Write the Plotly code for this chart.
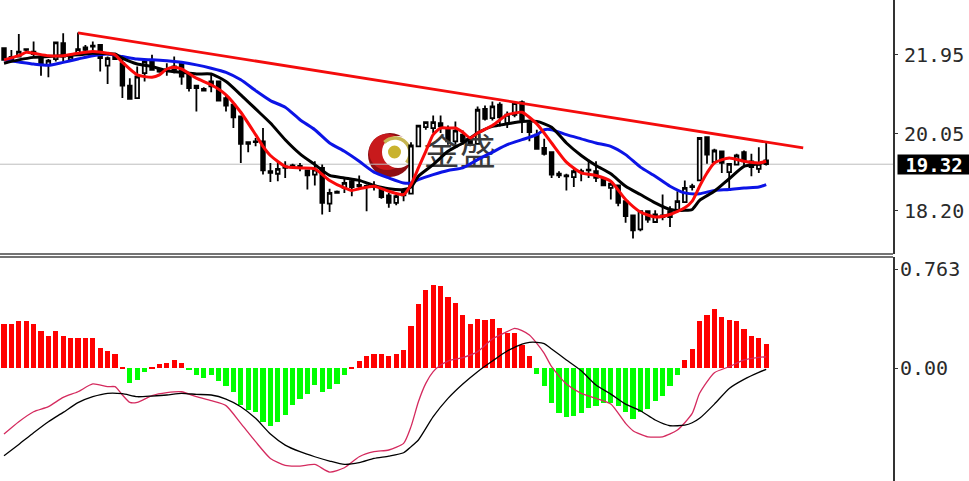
import math
import plotly.graph_objects as go

W, H = 969, 481

opens = [22.11,21.90,21.91,22.09,21.97,21.91,21.71,21.85,22.23,21.83,21.99,22.13,22.17,22.19,21.69,21.91,21.75,21.21,20.91,21.51,
         21.81,21.59,21.60,21.59,21.75,21.47,21.21,21.13,21.31,21.31,20.91,20.75,20.47,19.85,19.87,19.87,19.15,19.09,19.27,19.29,
         19.28,19.17,19.07,19.23,18.37,18.66,18.75,18.91,18.82,18.80,18.80,18.71,18.57,18.39,18.57,18.61,19.75,20.21,20.19,20.31,
         20.19,19.87,20.03,19.91,19.81,20.65,20.43,20.75,20.31,20.51,20.81,20.31,20.03,19.71,19.61,19.09,19.05,19.01,19.15,19.19,
         19.15,18.97,18.75,18.81,18.43,18.09,17.75,18.19,17.93,18.09,18.05,18.21,18.41,18.79,18.93,19.97,19.37,19.63,19.13,19.31,
         19.61,19.39,19.21,19.41]
highs = [22.11,22.07,22.45,22.09,22.27,21.95,21.85,22.25,22.47,21.93,22.49,22.19,22.27,22.19,21.91,21.93,21.89,21.39,21.67,21.83,
         21.95,21.60,21.75,21.91,21.77,21.47,21.23,21.17,21.47,21.31,20.97,20.77,20.47,19.85,19.95,20.19,19.35,19.39,19.39,19.33,
         19.35,19.17,19.39,19.31,18.73,18.69,18.97,18.97,19.05,18.83,18.91,18.79,18.63,18.59,18.75,19.85,20.27,20.33,20.49,20.49,
         20.25,20.35,20.13,19.97,20.71,20.73,20.83,20.81,20.59,20.81,20.85,20.35,20.15,19.93,19.61,19.15,19.09,19.25,19.21,19.43,
         19.39,18.99,18.89,18.81,18.43,18.09,18.21,18.21,18.21,18.59,18.31,18.67,18.93,18.85,19.97,19.99,19.69,19.63,19.35,19.57,
         19.65,19.57,19.73,19.85]
lows = [21.83,21.83,21.91,22.03,21.91,21.45,21.41,21.79,21.79,21.81,21.95,22.03,22.03,21.55,21.25,21.83,20.91,20.89,20.89,21.31,
        21.57,21.52,21.45,21.51,21.23,21.07,20.59,21.09,21.05,20.83,20.59,20.19,19.35,19.61,19.75,19.07,18.89,18.91,18.99,19.23,
        19.15,18.71,18.81,18.11,18.17,18.61,18.63,18.55,18.75,18.19,18.69,18.49,18.27,18.33,18.43,18.59,19.73,20.15,20.07,20.07,
        19.79,19.79,19.79,19.75,19.81,20.37,20.37,20.23,20.19,20.45,20.07,19.87,19.67,19.53,18.99,18.99,18.69,18.77,18.91,18.99,
        18.89,18.79,18.47,18.31,17.91,17.53,17.71,17.91,17.91,17.97,17.81,18.19,18.39,18.69,18.93,19.33,19.35,19.11,18.75,19.29,
        19.27,19.03,19.11,19.29]
closes = [21.83,21.85,22.03,22.07,22.03,21.71,21.81,22.25,21.91,21.91,22.09,22.07,22.15,21.87,21.87,21.85,21.21,20.89,21.43,21.79,
          21.59,21.55,21.58,21.67,21.43,21.15,21.15,21.09,21.19,20.85,20.73,20.45,19.81,19.81,19.85,19.17,19.11,19.21,19.23,19.27,
          19.26,19.05,19.19,18.39,18.63,18.63,18.87,18.77,18.79,18.78,18.77,18.53,18.39,18.55,18.67,19.77,20.25,20.33,20.33,20.23,
          19.87,20.13,19.87,19.83,20.63,20.41,20.71,20.45,20.51,20.79,20.39,20.09,19.69,19.57,19.07,19.05,19.03,19.15,19.13,19.17,
          18.99,18.81,18.85,18.39,18.07,17.73,18.19,17.99,18.11,18.05,18.19,18.43,18.75,18.77,19.95,19.55,19.65,19.35,19.33,19.53,
          19.39,19.25,19.33,19.32]

blue_idx = [0,2,4,6,8,10,12,14,16,18,20,22,24,26,28,30,32,34,36,38,40,42,44,46,48,50,52,54,55,56,58,60,62,64,66,68,70,72,73,74,
            76,78,80,82,84,86,88,90,92,94,96,98,100,102,103]
blue_ma = [21.83,21.78,21.73,21.70,21.77,21.85,21.93,21.97,21.91,21.85,21.83,21.81,21.77,21.71,21.63,21.53,21.35,21.09,20.85,20.69,
           20.39,20.15,19.83,19.63,19.39,19.13,18.99,18.87,18.87,18.95,19.07,19.17,19.23,19.43,19.61,19.79,19.91,20.03,20.15,20.15,
           20.03,19.93,19.83,19.75,19.55,19.25,19.03,18.79,18.63,18.61,18.69,18.71,18.75,18.77,18.83]

black_idx = [0,2,4,6,8,10,12,14,15,16,18,20,22,24,26,28,30,32,34,36,38,40,42,44,46,48,50,52,54,55,56,58,60,62,64,66,68,70,72,74,
             76,78,80,82,84,86,88,90,92,93,94,96,98,100,102,103]
black_ma = [21.75,21.83,21.89,21.91,21.93,21.95,21.99,21.98,21.97,21.87,21.73,21.67,21.57,21.53,21.49,21.49,21.31,20.99,20.65,20.31,
            19.91,19.57,19.31,19.05,18.99,18.93,18.81,18.73,18.71,18.77,19.03,19.31,19.63,19.83,20.07,20.23,20.29,20.35,20.35,20.21,
            19.83,19.53,19.29,19.09,18.79,18.59,18.39,18.23,18.21,18.23,18.45,18.67,18.97,19.27,19.33,19.39]

red_idx = [0,2,3,4,6,8,10,12,14,15,16,18,20,21,22,23,24,26,28,30,32,34,35,36,38,40,42,44,46,47,48,50,52,54,55,56,57,58,59,60,
           61,62,63,64,66,68,69,70,72,74,76,78,80,82,84,86,88,90,92,93,94,95,96,98,100,102,103]
red_ma = [21.83,21.93,22.01,21.99,21.93,21.93,21.99,22.03,21.99,21.95,21.77,21.47,21.41,21.47,21.61,21.65,21.61,21.39,21.23,20.99,
          20.57,20.03,19.75,19.53,19.27,19.23,19.21,18.93,18.75,18.69,18.73,18.79,18.67,18.59,18.83,19.23,19.63,20.03,20.19,20.19,
          20.19,20.09,19.95,20.07,20.25,20.51,20.55,20.57,20.29,19.83,19.37,19.11,19.05,18.91,18.47,18.17,18.05,18.11,18.27,18.43,
          18.79,19.11,19.35,19.47,19.39,19.35,19.39]

trend_idx = [10, 108]
trend_vals = [22.48, 19.71]
last_price = 19.32

macd_hist = [.339,.339,.360,.360,.339,.285,.247,.285,.247,.229,.229,.229,.229,.154,.129,.108,.005,-.118,-.093,-.028,
             .005,.028,.036,.062,.036,-.015,-.057,-.075,-.057,-.100,-.139,-.185,-.285,-.324,-.342,-.414,-.445,-.414,-.360,-.285,
             -.239,-.203,-.131,-.183,-.165,-.121,-.054,.008,.054,.093,.111,.111,.093,.111,.139,.324,.491,.602,.638,.630,
             .545,.499,.406,.342,.378,.370,.378,.306,.267,.267,.175,.093,-.046,-.139,-.267,-.350,-.378,-.368,-.350,-.311,
             -.293,-.267,-.267,-.293,-.342,-.396,-.342,-.314,-.257,-.213,-.139,-.054,.062,.147,.362,.409,.452,.396,.370,.360,
             .303,.249,.229,.185]

pink_idx = [0,2,4,6,8,10,12,14,15,16,17,18,20,22,24,26,28,30,32,34,36,38,40,42,44,46,48,50,52,54,55,56,57,58,59,60,62,64,66,68,
            69,70,71,72,73,74,76,78,80,82,84,85,87,89,91,93,94,96,98,100,102,103]
pink_line = [-.509,-.414,-.337,-.298,-.226,-.183,-.123,-.144,-.144,-.208,-.265,-.265,-.213,-.190,-.183,-.221,-.252,-.290,-.427,-.568,
             -.697,-.751,-.756,-.743,-.802,-.769,-.684,-.645,-.632,-.581,-.452,-.260,-.118,-.028,.023,.054,.080,.126,.224,.280,
             .306,.288,.254,.190,.113,.010,-.123,-.195,-.234,-.278,-.427,-.483,-.530,-.530,-.478,-.350,-.195,-.036,.010,.062,.082,.087]

signal_idx = [0,2,4,6,8,10,12,14,16,18,20,22,24,26,28,30,32,34,36,38,40,42,44,46,48,50,52,54,55,56,58,60,62,64,66,68,70,71,72,73,
              74,76,78,80,82,84,86,88,90,92,93,94,96,98,100,102,103]
signal_line = [-.676,-.589,-.499,-.414,-.342,-.267,-.221,-.195,-.198,-.221,-.216,-.208,-.195,-.203,-.208,-.239,-.298,-.388,-.509,-.594,
               -.645,-.684,-.717,-.743,-.730,-.697,-.679,-.653,-.607,-.555,-.375,-.234,-.123,-.028,.054,.131,.185,.198,.198,.188,
               .147,.062,-.021,-.131,-.201,-.278,-.329,-.401,-.445,-.440,-.422,-.388,-.278,-.157,-.087,-.033,-.010]

price_ticks = [21.95, 20.05, 18.20]
price_labels = ["21.95", "20.05", "18.20"]
macd_ticks = [0.763, 0.0]
macd_labels = ["0.763", "0.00"]

PLOT_RIGHT = 893
candle_x = list(range(len(closes)))

fig = go.Figure()

# watermark text sits under the indicator lines
fig.add_trace(go.Scatter(x=[61.6], y=[19.52], mode="text", text=["金盛"], textposition="middle center",
                         textfont=dict(family="Noto Sans CJK SC", size=36, color="#3a3a3a"),
                         xaxis="x", yaxis="y", hoverinfo="skip"))

fig.add_trace(go.Candlestick(x=candle_x, open=opens, high=highs, low=lows, close=closes,
                             increasing=dict(line=dict(color="black", width=1.8), fillcolor="white"),
                             decreasing=dict(line=dict(color="black", width=1.8), fillcolor="black"),
                             whiskerwidth=0, xaxis="x", yaxis="y", hoverinfo="skip"))

for xs, ys, c, w in [(blue_idx, blue_ma, "#0c14e6", 3),
                     (black_idx, black_ma, "#000000", 3),
                     (red_idx, red_ma, "#fa0a0a", 3)]:
    fig.add_trace(go.Scatter(x=xs, y=ys, mode="lines", line=dict(color=c, width=w, shape="spline", smoothing=0.6),
                             xaxis="x", yaxis="y", hoverinfo="skip"))
fig.add_trace(go.Scatter(x=trend_idx, y=trend_vals, mode="lines", line=dict(color="#f40c0c", width=2.8),
                         xaxis="x", yaxis="y", hoverinfo="skip"))

bar_colors = ["#ff0000" if v > 0 else "#00ff00" for v in macd_hist]
fig.add_trace(go.Bar(x=candle_x, y=macd_hist, marker=dict(color=bar_colors, line=dict(width=0)), width=0.72,
                     xaxis="x2", yaxis="y2", hoverinfo="skip"))
fig.add_trace(go.Scatter(x=pink_idx, y=pink_line, mode="lines", line=dict(color="#d42a5e", width=1.3, shape="spline", smoothing=0.6),
                         xaxis="x2", yaxis="y2", hoverinfo="skip"))
fig.add_trace(go.Scatter(x=signal_idx, y=signal_line, mode="lines", line=dict(color="#000000", width=1.3, shape="spline", smoothing=0.6),
                         xaxis="x2", yaxis="y2", hoverinfo="skip"))


def px(x):
    return x / W


def py(y):
    return 1 - y / H


def circle(cx, cy, r, color, **kw):
    return dict(type="circle", xref="paper", yref="paper", x0=px(cx - r), x1=px(cx + r),
                y0=py(cy + r), y1=py(cy - r), fillcolor=color, line=dict(width=0), layer="below", **kw)


def arc_path(cx, cy, r, a0, a1, n=24):
    pts = []
    for k in range(n + 1):
        a = math.radians(a0 + (a1 - a0) * k / n)
        pts.append(f"{px(cx + r * math.cos(a)):.5f},{py(cy + r * math.sin(a)):.5f}")
    return "M" + " L".join(pts)


shapes = [
    circle(390, 155, 22, "#8e0d12"),
    circle(387, 152, 18, "#c81a1c"),
    circle(398, 152, 16, "#ffffff"),
    dict(type="path", xref="paper", yref="paper", path=arc_path(395, 153, 15, -135, 40),
         line=dict(color="#c6b552", width=3.5), layer="below"),
    circle(394.5, 152, 6.5, "#c9b22f"),
    dict(type="line", xref="paper", yref="y", x0=0, x1=px(PLOT_RIGHT), y0=last_price, y1=last_price,
         line=dict(color="#bdbdbd", width=1), layer="below"),
    dict(type="line", xref="paper", yref="paper", x0=0, x1=px(PLOT_RIGHT), y0=py(254), y1=py(254),
         line=dict(color="#444444", width=1.5)),
    dict(type="line", xref="paper", yref="paper", x0=0, x1=px(PLOT_RIGHT), y0=py(257), y1=py(257),
         line=dict(color="#444444", width=1.5)),
]

x_range = [(0 - 4) / 7.4, (PLOT_RIGHT - 4) / 7.4]
tick_font = dict(family="DejaVu Sans Mono", size=20, color="#2a2a2a")
axis_common = dict(side="right", showgrid=False, zeroline=False, showline=True, linecolor="#333333", linewidth=2,
                   ticks="outside", ticklen=3, tickcolor="#333333", tickmode="array", tickfont=tick_font)

fig.update_layout(
    width=W, height=H, autosize=False,
    margin=dict(l=0, r=0, t=0, b=0),
    paper_bgcolor="white", plot_bgcolor="white",
    showlegend=False, shapes=shapes, bargap=0,
    xaxis=dict(domain=[0, PLOT_RIGHT / W], range=x_range, visible=False, rangeslider=dict(visible=False), anchor="y"),
    xaxis2=dict(domain=[0, PLOT_RIGHT / W], range=x_range, visible=False, anchor="y2", matches="x"),
    yaxis=dict(domain=[py(254), 1], range=[17.16, 23.27], anchor="x", tickvals=price_ticks, ticktext=price_labels,
               ticklabelstandoff=2, **axis_common),
    yaxis2=dict(domain=[0, py(257)], range=[-0.871, 0.856], anchor="x2", tickvals=macd_ticks, ticktext=macd_labels,
                ticklabelstandoff=-2, **axis_common),
    annotations=[dict(xref="paper", yref="y", x=897 / W, y=last_price, xanchor="left", yanchor="middle",
                      text="<b>19.32</b>", showarrow=False, bgcolor="#000000", width=72, height=19, align="center",
                      borderpad=0, font=dict(family="DejaVu Sans Mono", size=19, color="white"))],
)

fig.write_html("out.html", config=dict(displayModeBar=False),
               post_script="document.body.style.margin='0';document.body.style.overflow='hidden';")
